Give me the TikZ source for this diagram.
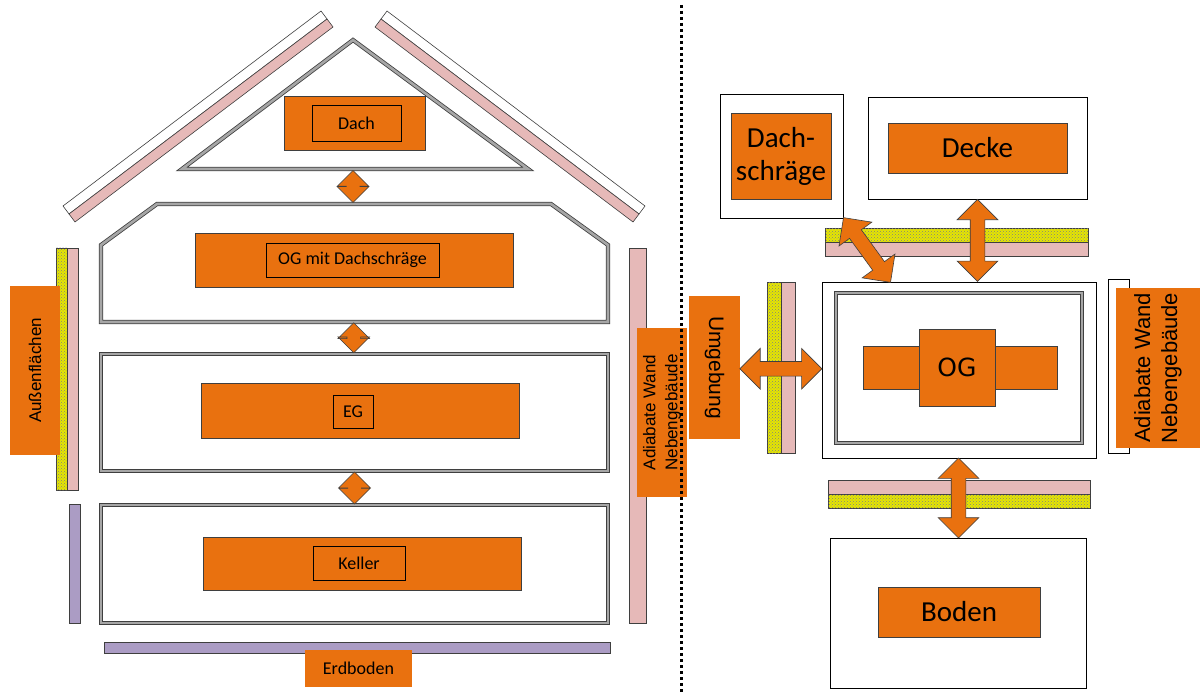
\documentclass[tikz,border=0pt]{standalone}
\usepackage{fontspec}
\setmainfont{Carlito}
\newfontfamily\arialfont{Liberation Sans}
\newfontfamily\dejafont{DejaVu Sans}
\usepackage{tikz}
\usetikzlibrary{shapes.arrows,patterns,calc,positioning}
\definecolor{heat}{HTML}{E9710F}
\definecolor{plaster}{HTML}{E6B9B8}
\definecolor{soil}{HTML}{AB9CC4}
\definecolor{insul}{HTML}{E6E600}
\definecolor{frame}{HTML}{3F3F3F}
\newcommand{\fs}[2]{\fontsize{#1}{#2}\selectfont}

\tikzset{
  room/.style={draw=frame, double=black!35, double distance=2.6pt, line width=0.8pt, inner sep=0pt},
  zone/.style={draw=frame, fill=heat, line width=0.7pt, inner sep=0pt},
  tag/.style={draw=black, line width=0.6pt, inner sep=0pt},
  tagfill/.style={fill=heat, inner sep=0pt},
  shell/.style={draw=black, line width=0.8pt, inner sep=0pt},
  layer/.style={draw=frame, line width=0.6pt},
  insulation/.style={layer, fill=insul, postaction={pattern=crosshatch dots, pattern color=black!50}},
  flow/.style={double arrow, draw=frame, fill=heat, line width=0.6pt, inner xsep=0pt, inner ysep=7pt,
    double arrow head extend=13pt},
  smallflow/.style={flow, inner ysep=6.5pt, double arrow head extend=9pt},
  leftlabel/.style={font=\fs{18}{22}},
  biglabel/.style={font=\fs{29}{33}, align=center},
}

\begin{document}
\begin{tikzpicture}[x=1pt,y=-1pt]
  \useasboundingbox (0,0) rectangle (1200,695);

  % roof panels
  \draw[layer, fill=white] (63,206) -- (321,11) -- (327,19) -- (69,214) -- cycle;
  \draw[layer, fill=plaster] (69,214) -- (327,19) -- (333,27) -- (75,222) -- cycle;
  \draw[layer, fill=white] (645,206) -- (387,11) -- (381,19) -- (639,214) -- cycle;
  \draw[layer, fill=plaster] (639,214) -- (381,19) -- (375,27) -- (633,222) -- cycle;

  % walls of the house
  \draw[insulation] (56,248) rectangle (67,490);
  \draw[layer, fill=plaster] (67,248) rectangle (78,490);
  \draw[layer, fill=soil] (69,504) rectangle (80,623);
  \draw[layer, fill=plaster] (629,248) rectangle (646,623);
  \draw[layer, fill=soil] (104,642) rectangle (610,653);

  % floors
  \draw[room] (353,40) -- (528,169) -- (182,169) -- cycle;
  \coordinate (attic base) at (353,169);
  \draw[room] (101,245) -- (157,204) -- (551,204) -- (608,245) -- (608,322) -- (101,322) -- cycle;
  \coordinate (og top) at (353,204);
  \coordinate (og bottom) at (353,322);
  \node[room, minimum width=507, minimum height=117] (eg) at (354.5,412.5) {};
  \node[room, minimum width=507, minimum height=118] (keller) at (354.5,564) {};

  \node[zone, minimum width=141, minimum height=54] (dach zone) at (354.5,123) {};
  \node[tag, leftlabel, minimum width=89, minimum height=36] (dach) at (356.5,123) {Dach};
  \node[zone, minimum width=318, minimum height=54] (og zone) at (354,260) {};
  \node[tag, leftlabel, minimum width=173, minimum height=34] (ogd) at (352.5,260) {OG mit Dachschräge};
  \node[zone, minimum width=318, minimum height=55] (eg zone) at (360,410.5) {};
  \node[tag, leftlabel, minimum width=40, minimum height=33] (egl) at (353,411.5) {EG};
  \node[zone, minimum width=318, minimum height=53] (keller zone) at (362,563.5) {};
  \node[tag, leftlabel, minimum width=92, minimum height=34] (kellerl) at (359,563) {Keller};

  % outer labels
  \node[tagfill, minimum width=50, minimum height=168] (aussen) at (35,370.5) {};
  \node[rotate=90, font=\arialfont\fs{17}{21}] at (aussen) {Außenflächen};
  \node[tagfill, minimum width=107, minimum height=37] (erdboden) at (358.5,668.5) {};
  \node[leftlabel] at (erdboden) {Erdboden};
  \node[tagfill, minimum width=50, minimum height=169] (adiab left) at (662,412.5) {};
  \node[rotate=90, align=center, font=\arialfont\fs{17}{22}] at (adiab left) {Adiabate Wand\\Nebengebäude};

  % separator
  \draw[line width=3pt, dash pattern=on 3pt off 3pt] (681,5) -- (681,695);

  % single zone model
  \node[shell, minimum width=123, minimum height=124] (schraege box) at (781.5,156) {};
  \node[zone, biglabel, minimum width=100, minimum height=86] (schraege) at (781,156) {Dach-\\schräge};
  \node[shell, minimum width=219, minimum height=102] (decke box) at (977.5,148) {};
  \node[zone, biglabel, minimum width=179, minimum height=50] (decke) at (977.5,148) {Decke};
  \draw[insulation] (825,228) rectangle (1088,242);
  \draw[layer, fill=plaster] (825,242) rectangle (1088,256);

  \node[tagfill, minimum width=51, minimum height=143] (umgebung) at (714.5,367.5) {};
  \node[rotate=-90, font=\arialfont\fs{21}{25}] at (umgebung) {Umgebung};
  \draw[insulation] (767,282) rectangle (781,453);
  \draw[layer, fill=plaster] (781,282) rectangle (795,453);

  \node[shell, minimum width=274, minimum height=176] (ogr) at (959,370) {};
  \node[room, minimum width=246, minimum height=150] (ogr inner) at (959,368) {};
  \node[zone, minimum width=194, minimum height=43] (og wide) at (960,367.5) {};
  \node[zone, minimum width=76, minimum height=77, font=\dejafont\fs{25}{30}] (og) at (957,367.5) {OG};

  \node[shell, minimum width=21, minimum height=174] (adiab box) at (1118.5,366) {};
  \node[tagfill, minimum width=84, minimum height=160] (adiab right) at (1158,368) {};
  \node[rotate=90, align=center, font=\arialfont\fs{22}{27}] at (adiab right) {Adiabate Wand\\Nebengebäude};

  \draw[layer, fill=plaster] (828,480) rectangle (1090,494);
  \draw[insulation] (828,494) rectangle (1090,508);
  \node[shell, minimum width=256, minimum height=150] (boden box) at (958,613) {};
  \node[zone, biglabel, minimum width=162, minimum height=50] (boden) at (959,612) {Boden};

  % heat flows
  \node[smallflow, rotate=90, minimum height=32] (f1) at ($(attic base)!.5!(og top)$) {};
  \node[smallflow, rotate=90, minimum height=30] (f2) at ($(og bottom)!.5!(eg.north)$) {};
  \node[smallflow, rotate=90, minimum height=32] (f3) at ($(eg.south)!.5!(keller.north)$) {};
  \node[flow, rotate=90, minimum height=82] (f decke) at ($(decke box.south)+(0,41)$) {};
  \node[flow, rotate=90, minimum height=80] (f boden) at ($(ogr.south)!.5!(boden box.north)$) {};
  \node[flow, minimum height=82] (f umg) at ($(umgebung.east)!.5!(ogr.west)$) {};
  \coordinate (ogr roof) at ($(ogr.north west)+(69,0)$);
  \node[flow, rotate=-54, minimum height=80] (f schraege) at ($(schraege box.south east)!.5!(ogr roof)$) {};
\end{tikzpicture}
\end{document}
